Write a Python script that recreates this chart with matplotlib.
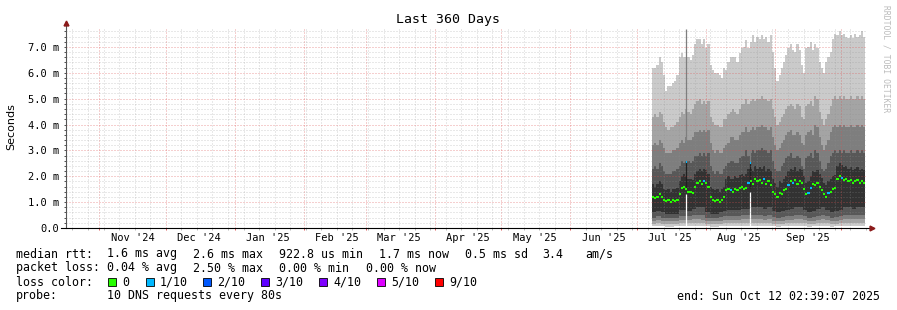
import numpy as np
import pandas as pd
import matplotlib
matplotlib.use("Agg")
import matplotlib.pyplot as plt
import matplotlib.dates as mdates
from matplotlib.patches import Rectangle
from matplotlib.ticker import MultipleLocator, FuncFormatter, NullFormatter

# graph window: 360 days up to the end stamp
end_time = pd.Timestamp("2025-10-12 02:39:07")
start_time = end_time - pd.Timedelta(days=360)
data_start = pd.Timestamp("2025-07-07 18:00")

# daily rtt in ms, 10 pings sorted (cp10 = slowest ... cp6 just above median)
cp10 = [6.2, 6.2, 6.3, 6.6, 6.4, 5.9, 5.3, 5.5, 5.5, 5.6, 5.7, 5.9,
        6.6, 6.75, 6.6, 6.6, 6.6, 6.5, 6.7, 7.1, 7.3, 7.3, 7.1, 7.3,
        6.95, 7.1, 6.3, 6.1, 6.0, 6.0, 5.9, 5.8, 6.2, 6.1, 6.4, 6.6,
        6.6, 6.6, 6.4, 6.75, 6.95, 7.0, 7.25, 6.95, 7.2, 7.45, 7.2, 7.4,
        7.3, 7.45, 7.3, 7.4, 7.2, 7.45, 6.8, 6.2, 5.7, 5.9, 6.2, 6.4,
        6.7, 6.95, 7.1, 6.9, 6.8, 7.1, 6.9, 6.3, 6.0, 6.95, 7.0, 7.2, 6.9,
        7.1, 6.95, 6.4, 6.2, 6.0, 6.4, 6.6, 6.8, 7.3, 7.5, 7.45, 7.6,
        7.45, 7.5, 7.4, 7.35, 7.45, 7.35, 7.5, 7.4, 7.45, 7.6, 7.4]
cp9 = [4.3, 4.4, 4.3, 4.5, 4.4, 4.1, 3.9, 3.8, 3.9, 3.9, 4.0, 4.1,
       4.3, 4.5, 4.4, 4.6, 4.5, 4.4, 4.6, 4.8, 4.9, 5.0, 4.8, 4.9,
       4.8, 4.9, 4.3, 4.1, 4.0, 4.0, 3.9, 3.9, 4.2, 4.2, 4.4, 4.5,
       4.6, 4.5, 4.4, 4.6, 4.8, 4.8, 5.0, 4.8, 4.9, 5.0, 4.9, 5.0,
       5.0, 5.1, 5.0, 5.0, 4.9, 5.0, 4.6, 4.3, 4.0, 4.1, 4.3, 4.4,
       4.6, 4.7, 4.8, 4.7, 4.6, 4.8, 4.7, 4.3, 4.2, 4.7, 4.8, 4.9, 4.7,
       5.1, 5.0, 4.5, 4.2, 4.0, 4.2, 4.4, 4.7, 5.0, 5.1, 5.0, 5.1,
       5.0, 5.1, 5.0, 5.0, 5.1, 5.0, 5.0, 5.1, 5.0, 5.1, 5.0]
cp8 = [3.2, 3.3, 3.2, 3.4, 3.3, 3.1, 2.9, 2.9, 2.9, 3.0, 3.0, 3.1,
       3.3, 3.4, 3.3, 3.5, 3.4, 3.4, 3.5, 3.7, 3.7, 3.8, 3.7, 3.8,
       3.7, 3.8, 3.3, 3.0, 2.9, 3.0, 2.9, 2.9, 3.1, 3.2, 3.3, 3.5,
       3.5, 3.4, 3.4, 3.6, 3.7, 3.7, 3.9, 3.7, 3.8, 3.9, 3.8, 3.9,
       3.9, 4.0, 3.9, 3.9, 3.8, 3.9, 3.5, 3.2, 3.0, 3.1, 3.3, 3.4,
       3.6, 3.7, 3.8, 3.6, 3.6, 3.7, 3.6, 3.3, 3.2, 3.6, 3.7, 3.8, 3.6,
       4.0, 3.9, 3.5, 3.2, 3.0, 3.2, 3.4, 3.7, 3.9, 4.0, 3.9, 4.0,
       3.9, 4.0, 3.9, 3.9, 4.0, 3.9, 3.9, 4.0, 3.9, 4.0, 3.9]
cp7 = [2.3, 2.4, 2.3, 2.5, 2.4, 2.2, 2.1, 2.1, 2.1, 2.2, 2.2, 2.3,
       2.4, 2.6, 2.5, 2.6, 2.6, 2.5, 2.6, 2.8, 2.8, 2.9, 2.8, 2.9,
       2.8, 2.9, 2.4, 2.2, 2.1, 2.2, 2.1, 2.1, 2.3, 2.4, 2.5, 2.6,
       2.6, 2.5, 2.5, 2.7, 2.8, 2.8, 3.0, 2.8, 2.9, 3.0, 2.9, 3.0,
       3.0, 3.1, 3.0, 3.0, 2.9, 3.0, 2.6, 2.3, 2.2, 2.2, 2.4, 2.5,
       2.7, 2.8, 2.9, 2.7, 2.7, 2.8, 2.7, 2.4, 2.3, 2.7, 2.8, 2.9, 2.7,
       3.0, 2.9, 2.6, 2.3, 2.2, 2.3, 2.5, 2.8, 2.9, 3.0, 2.9, 3.0,
       2.9, 3.0, 2.9, 2.9, 3.0, 2.9, 2.9, 3.0, 2.9, 3.0, 2.9]
cp6 = [1.7, 1.6, 1.7, 1.8, 1.7, 1.5, 1.45, 1.5, 1.4, 1.5, 1.5, 1.55,
       1.8, 2.0, 2.1, 2.0, 1.9, 1.9, 1.85, 2.1, 2.2, 2.3, 2.2, 2.3,
       2.25, 2.1, 1.6, 1.5, 1.45, 1.5, 1.4, 1.5, 1.6, 1.9, 2.0, 1.9,
       1.9, 2.0, 1.95, 2.05, 2.1, 2.0, 2.1, 2.3, 2.3, 2.2, 2.4, 2.3,
       2.35, 2.3, 2.4, 2.2, 2.3, 2.2, 1.9, 1.75, 1.6, 1.8, 1.75, 1.9,
       2.0, 2.2, 2.3, 2.25, 2.35, 2.2, 2.3, 2.25, 2.0, 1.75, 1.8, 2.0, 2.2,
       2.15, 2.25, 2.1, 1.95, 1.75, 1.65, 1.8, 1.9, 2.0, 2.05, 2.4, 2.5,
       2.45, 2.35, 2.4, 2.3, 2.35, 2.25, 2.3, 2.35, 2.25, 2.3, 2.25]
median = [1.2, 1.15, 1.2, 1.3, 1.2, 1.1, 1.05, 1.1, 1.0, 1.1, 1.05, 1.1,
          1.3, 1.55, 1.6, 1.5, 1.4, 1.4, 1.35, 1.6, 1.75, 1.8, 1.7, 1.8,
          1.75, 1.6, 1.2, 1.1, 1.05, 1.1, 1.0, 1.1, 1.2, 1.45, 1.5, 1.45,
          1.4, 1.5, 1.45, 1.55, 1.6, 1.5, 1.55, 1.75, 1.8, 1.7, 1.9, 1.8,
          1.85, 1.75, 1.9, 1.7, 1.8, 1.65, 1.4, 1.3, 1.2, 1.35, 1.3, 1.45,
          1.5, 1.65, 1.8, 1.75, 1.85, 1.7, 1.8, 1.75, 1.5, 1.3, 1.35, 1.55, 1.7,
          1.65, 1.75, 1.6, 1.45, 1.3, 1.2, 1.35, 1.4, 1.5, 1.55, 1.9, 2.0,
          1.95, 1.85, 1.9, 1.8, 1.85, 1.75, 1.8, 1.85, 1.75, 1.8, 1.75]
# days (index into the daily series) where 1/10 packets were lost
loss_1_days = [23, 35, 43, 50, 61, 63, 70, 71, 79, 85]

# lower percentiles, one value per 2 days (cp5 just below median ... cp1 fastest)
cp5 = [0.6, 0.65, 0.6, 0.55, 0.55, 0.55, 0.7, 0.7, 0.65, 0.75, 0.8, 0.8,
       0.6, 0.55, 0.55, 0.6, 0.65, 0.7, 0.7, 0.7, 0.75, 0.75, 0.8, 0.8,
       0.8, 0.75, 0.8, 0.65, 0.6, 0.65, 0.7, 0.75, 0.8, 0.8, 0.7, 0.6,
       0.65, 0.75, 0.8, 0.7, 0.6, 0.65, 0.7, 0.8, 0.8, 0.75, 0.8, 0.8]
cp4 = [0.4, 0.45, 0.4, 0.38, 0.38, 0.4, 0.45, 0.48, 0.45, 0.5, 0.5, 0.5,
       0.4, 0.38, 0.4, 0.42, 0.45, 0.45, 0.48, 0.48, 0.5, 0.5, 0.52, 0.5,
       0.5, 0.48, 0.5, 0.42, 0.4, 0.42, 0.45, 0.48, 0.5, 0.5, 0.45, 0.4,
       0.42, 0.48, 0.5, 0.45, 0.4, 0.42, 0.45, 0.5, 0.52, 0.5, 0.5, 0.5]
cp3 = [0.28, 0.3, 0.28, 0.26, 0.26, 0.28, 0.3, 0.32, 0.3, 0.33, 0.33, 0.32,
       0.28, 0.26, 0.27, 0.28, 0.3, 0.3, 0.32, 0.32, 0.33, 0.33, 0.34, 0.33,
       0.33, 0.32, 0.33, 0.28, 0.27, 0.28, 0.3, 0.32, 0.33, 0.33, 0.3, 0.27,
       0.28, 0.32, 0.33, 0.3, 0.27, 0.28, 0.3, 0.33, 0.34, 0.33, 0.33, 0.33]
cp2 = [0.17, 0.18, 0.17, 0.16, 0.16, 0.17, 0.18, 0.19, 0.18, 0.2, 0.2, 0.19,
       0.17, 0.16, 0.16, 0.17, 0.18, 0.18, 0.19, 0.19, 0.2, 0.2, 0.2, 0.2,
       0.2, 0.19, 0.2, 0.17, 0.16, 0.17, 0.18, 0.19, 0.2, 0.2, 0.18, 0.16,
       0.17, 0.19, 0.2, 0.18, 0.16, 0.17, 0.18, 0.2, 0.2, 0.2, 0.2, 0.2]
cp1 = [0.06, 0.07, 0.06, 0.05, 0.05, 0.06, 0.07, 0.07, 0.07, 0.08, 0.08, 0.07,
       0.06, 0.05, 0.05, 0.06, 0.07, 0.07, 0.07, 0.07, 0.08, 0.08, 0.08, 0.08,
       0.08, 0.07, 0.08, 0.06, 0.05, 0.06, 0.07, 0.07, 0.08, 0.08, 0.07, 0.05,
       0.06, 0.07, 0.08, 0.07, 0.05, 0.06, 0.07, 0.08, 0.08, 0.08, 0.08, 0.08]

# two single-sample outliers
spike_times = ["2025-07-23 05:00", "2025-08-21 00:00"]
spike_floor = [1.3, 1.4]       # fastest ping (white below)
spike_median_lo = [1.5, 1.55]
spike_median_hi = [2.55, 2.5]
spike_top = [7.7, 3.3]

month_labels = ["Nov '24", "Dec '24", "Jan '25", "Feb '25", "Mar '25", "Apr '25",
                "May '25", "Jun '25", "Jul '25", "Aug '25", "Sep '25"]

loss_labels = ["0", "1/10", "2/10", "3/10", "4/10", "5/10", "9/10"]
loss_colors = ["#26ff00", "#00b8ff", "#0059ff", "#5e00ff", "#7e00ff", "#dd00ff", "#ff0000"]

smoke_colors = ["#cacaca", "#a4a4a4", "#7e7e7e", "#585858", "#323232"]

MONO = "DejaVu Sans Mono"
W, H = 897, 310


def fx(px):
    return px / W


def fy(py):
    return 1 - py / H


fig = plt.figure(figsize=(W / 100, H / 100), dpi=100, facecolor="white")
ax = fig.add_axes([fx(66), fy(228), 800 / W, 201 / H])

day_edges = mdates.date2num(pd.date_range(data_start, periods=len(median) + 1, freq="D"))
pair_edges = mdates.date2num(pd.date_range(data_start, periods=len(cp5) + 1, freq="2D"))


def smoke(edges, vals, color):
    y = np.append(vals, vals[-1])
    ax.fill_between(edges, 0, y, step="post", color=color, lw=0, zorder=1)


# upper halves of the smoke bands, outermost first
for vals, col in zip([cp10, cp9, cp8, cp7, cp6], smoke_colors):
    smoke(day_edges, vals, col)
# lower halves, painted inwards to the fastest ping
for vals, col in zip([cp5, cp4, cp3, cp2, cp1],
                     ["#585858", "#7e7e7e", "#a4a4a4", "#cacaca", "white"]):
    smoke(pair_edges, vals, col)

st = mdates.date2num(pd.to_datetime(spike_times))
ax.vlines(st, 0, spike_floor, colors="white", lw=0.9, zorder=1.5)
ax.vlines(st, spike_median_hi, spike_top, colors="#7e7e7e", lw=0.9, zorder=1.5)
ax.vlines(st, spike_median_lo, spike_median_hi, colors="#202020", lw=0.9, zorder=1.5)

med_cols = [loss_colors[1] if i in loss_1_days else loss_colors[0] for i in range(len(median))]
ax.hlines(median, day_edges[:-1], day_edges[1:], colors=med_cols, lw=1.5, zorder=4)
ax.hlines(spike_median_hi, st - 0.25, st + 0.25, colors=loss_colors[1], lw=1.5, zorder=4)

ax.set_xlim(mdates.date2num(start_time), mdates.date2num(end_time))
ax.set_ylim(0, 7.77)

ax.xaxis.set_major_locator(mdates.MonthLocator())
ax.xaxis.set_minor_locator(mdates.WeekdayLocator(byweekday=mdates.SU))
ax.xaxis.set_major_formatter(NullFormatter())
ax.xaxis.set_minor_formatter(NullFormatter())
ax.yaxis.set_major_locator(MultipleLocator(1.0))
ax.yaxis.set_minor_locator(MultipleLocator(0.2))
ax.yaxis.set_major_formatter(FuncFormatter(lambda v, p: "0.0" if v == 0 else f"{v:.1f} m"))

ax.set_axisbelow(False)
ax.grid(which="minor", color="#8f8f8f", alpha=0.4, lw=0.72, ls=(0, (1, 2)))
ax.grid(which="major", color="#de5050", alpha=0.55, lw=0.72, ls=(0, (1, 2)))

ax.tick_params(axis="y", which="both", direction="out", length=1.6, width=0.72,
               color="#555555", pad=3, labelsize=7.5)
ax.tick_params(axis="x", which="major", direction="out", length=1.6, width=0.72, color="#e06060")
ax.tick_params(axis="x", which="minor", direction="out", length=1.6, width=0.72, color="#bbbbbb")
for lab in ax.get_yticklabels():
    lab.set_fontfamily(MONO)

for s in ["top", "right", "left", "bottom"]:
    ax.spines[s].set_visible(False)
ax.plot([0, 0], [0, 1.015], transform=ax.transAxes, clip_on=False, color="#555555", lw=0.8, zorder=5)
ax.plot([-0.006, 1.004], [0, 0], transform=ax.transAxes, clip_on=False, color="black", lw=0.8, zorder=5)
ax.plot([0], [1.02], transform=ax.transAxes, clip_on=False, marker="^", ms=3.5, color="#8b1a1a", zorder=6)
ax.plot([1.007], [0], transform=ax.transAxes, clip_on=False, marker=">", ms=3.5, color="#8b1a1a", zorder=6)

months = pd.date_range("2024-11-01", periods=len(month_labels), freq="MS")
for m, lab in zip(months, month_labels):
    ax.text(mdates.date2num(m + pd.Timedelta(days=15)), -0.05, lab, transform=ax.get_xaxis_transform(),
            ha="center", va="center", fontsize=7.5, family=MONO)

fig.text(fx(448), fy(19), "Last 360 Days", ha="center", va="center", fontsize=9.5, family=MONO)
fig.text(fx(11), fy(127), "Seconds", rotation=90, ha="center", va="center", fontsize=8, family="DejaVu Sans")
fig.text(fx(886), fy(59), "RRDTOOL / TOBI OETIKER", rotation=270, ha="center", va="center",
         fontsize=5.8, family=MONO, color="#bbbbbb")

# legend block
fs = 8.4
rows = [254, 268, 282, 296]
fig.text(fx(16), fy(rows[0]), "median rtt:", va="center", fontsize=fs, family=MONO)
for x, t in zip([107, 193, 279, 379, 465, 542, 585],
                ["1.6 ms avg", "2.6 ms max", "922.8 us min", "1.7 ms now", "0.5 ms sd", "3.4", "am/s"]):
    fig.text(fx(x), fy(rows[0]), t, va="center", fontsize=fs, family=MONO)
fig.text(fx(16), fy(rows[1]), "packet loss:", va="center", fontsize=fs, family=MONO)
for x, t in zip([107, 193, 279, 366], ["0.04 % avg", "2.50 % max", "0.00 % min", "0.00 % now"]):
    fig.text(fx(x), fy(rows[1]), t, va="center", fontsize=fs, family=MONO)
fig.text(fx(16), fy(rows[2]), "loss color:", va="center", fontsize=fs, family=MONO)
for bx, lab, col in zip([108, 145.5, 203, 261, 319, 377, 435], loss_labels, loss_colors):
    fig.add_artist(Rectangle((fx(bx), fy(rows[2] + 4)), 8 / W, 8 / H, transform=fig.transFigure,
                             facecolor=col, edgecolor="black", lw=0.6))
    fig.text(fx(bx + 14.5), fy(rows[2]), lab, va="center", fontsize=fs, family=MONO)
fig.text(fx(16), fy(rows[3]), "probe:", va="center", fontsize=fs, family=MONO)
fig.text(fx(107), fy(rows[3]), "10 DNS requests every 80s", va="center", fontsize=fs, family=MONO)
fig.text(fx(880), fy(rows[3]), "end: Sun Oct 12 02:39:07 2025", ha="right", va="center",
         fontsize=fs, family=MONO)

fig.savefig("out.png", dpi=100, facecolor="white")
